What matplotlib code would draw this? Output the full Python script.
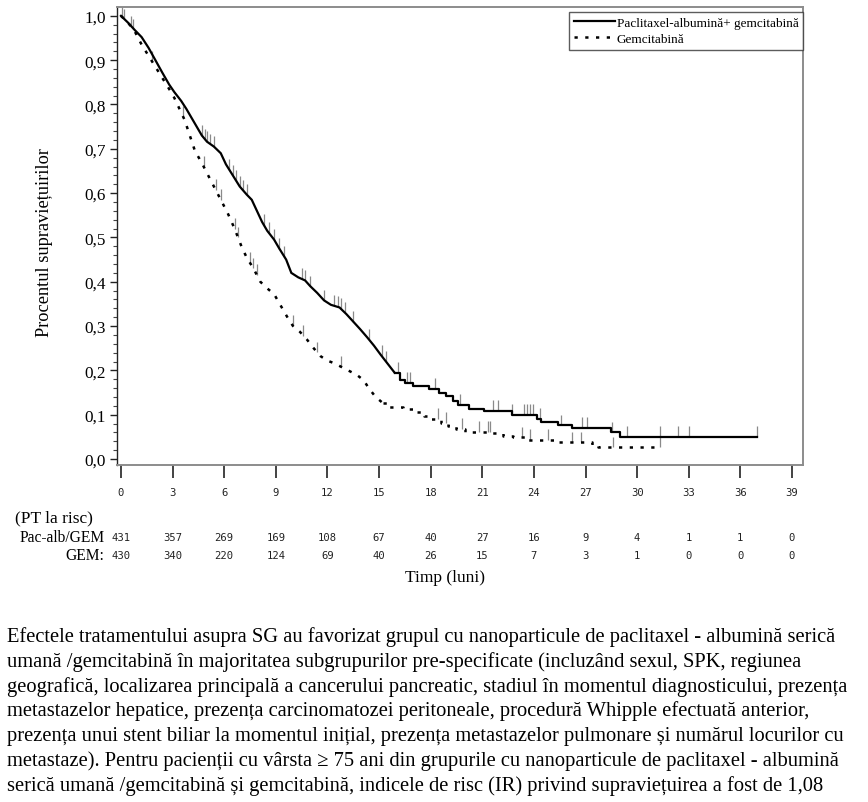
import numpy as np
import matplotlib
matplotlib.use("Agg")
import matplotlib.pyplot as plt
from matplotlib.lines import Line2D
from matplotlib.transforms import blended_transform_factory

# ---------------- data ----------------
pac_t = [0, 0.4, 0.8, 1.2, 1.6, 2.0, 2.4, 2.8, 3.1, 3.5, 3.8, 4.1, 4.4, 4.7, 5.0, 5.4, 5.8,
         6.1, 6.5, 6.9, 7.3, 7.6, 7.9, 8.2, 8.5, 8.9, 9.2, 9.6, 9.9, 10.3, 10.7, 11.0, 11.4, 11.8,
         12.2, 12.7, 13.1, 13.5, 13.9, 14.3, 14.7, 15.1, 15.5, 15.9, 16.2, 16.5, 17.0, 17.9, 18.5,
         18.9, 19.3, 19.6, 20.2, 21.1, 22.7, 24.2, 24.4, 25.4, 26.2, 28.5, 29.0, 36.96]
pac_s = [1.0, 0.985, 0.968, 0.952, 0.928, 0.9, 0.872, 0.845, 0.828, 0.808, 0.79, 0.77, 0.75,
         0.73, 0.716, 0.705, 0.69, 0.665, 0.64, 0.615, 0.597, 0.585, 0.56, 0.535, 0.515, 0.495,
         0.475, 0.45, 0.42, 0.41, 0.403, 0.39, 0.375, 0.358, 0.348, 0.342, 0.327, 0.31, 0.293,
         0.275, 0.256, 0.235, 0.215, 0.195, 0.178, 0.172, 0.165, 0.158, 0.15, 0.143, 0.13, 0.122,
         0.113, 0.109, 0.1, 0.09, 0.083, 0.076, 0.07, 0.06, 0.05, 0.05]
pac_cens = [0.05, 0.2, 4.7, 4.9, 5.0, 5.2, 5.4, 6.3, 6.5, 6.7, 6.9, 7.1, 7.3, 8.3, 8.6, 8.9, 9.2,
            9.5, 10.5, 10.7, 11.0, 11.8, 12.4, 12.6, 12.8, 13.0, 13.5, 14.4, 15.15, 15.4, 16.1,
            16.6, 16.8, 18.26, 19.7, 21.6, 21.9, 22.7, 23.45, 23.6, 23.8, 23.97, 24.36, 25.58,
            26.8, 27.1, 28.56, 29.4, 31.3, 32.4, 33.0, 36.96]

gem_t = [0, 0.4, 0.8, 1.2, 1.6, 2.0, 2.4, 2.8, 3.1, 3.4, 3.7, 4.0, 4.3, 4.7, 5.0, 5.4, 5.8, 6.2,
         6.6, 7.0, 7.3, 7.7, 8.1, 8.5, 8.9, 9.3, 9.7, 10.0, 10.4, 10.8, 11.2, 11.6, 12.0, 12.4,
         12.8, 13.2, 13.7, 14.1, 14.4, 14.8, 15.2, 15.6, 16.4, 17.0, 17.6, 18.0, 18.6, 19.0, 19.5,
         20.0, 21.5, 22.2, 22.8, 23.5, 25.2, 27.4, 27.7, 31.3]
gem_s = [1.0, 0.985, 0.965, 0.935, 0.91, 0.885, 0.86, 0.835, 0.815, 0.79, 0.765, 0.73, 0.695,
         0.668, 0.645, 0.615, 0.585, 0.555, 0.52, 0.48, 0.455, 0.43, 0.40, 0.385, 0.372, 0.345,
         0.318, 0.3, 0.287, 0.27, 0.25, 0.232, 0.222, 0.216, 0.208, 0.2, 0.19, 0.178, 0.16, 0.14,
         0.127, 0.117, 0.113, 0.105, 0.098, 0.09, 0.082, 0.075, 0.068, 0.062, 0.058, 0.053, 0.049,
         0.044, 0.038, 0.03, 0.026, 0.026]
gem_cens = [0.6, 0.7, 1.8, 3.6, 4.8, 5.5, 5.8, 6.6, 6.8, 7.5, 7.7, 7.9, 10.0, 10.6, 11.4, 12.8,
            18.45, 18.9, 19.8, 20.8, 21.35, 21.45, 23.3, 23.8, 24.8, 26.2, 26.74, 28.6, 31.3]

x_ticks = list(range(0, 40, 3))
risk_pac = [431, 357, 269, 169, 108, 67, 40, 27, 16, 9, 4, 1, 1, 0]
risk_gem = [430, 340, 220, 124, 69, 40, 26, 15, 7, 3, 1, 0, 0, 0]
y_ticks = [i / 10 for i in range(11)]
y_ticklabels = ["0,0", "0,1", "0,2", "0,3", "0,4", "0,5", "0,6", "0,7", "0,8", "0,9", "1,0"]

label_pac = "Paclitaxel-albumină+ gemcitabină"
label_gem = "Gemcitabină"

paragraph = [
    "Efectele tratamentului asupra SG au favorizat grupul cu nanoparticule de paclitaxel - albumină serică",
    "umană /gemcitabină în majoritatea subgrupurilor pre-specificate (incluzând sexul, SPK, regiunea",
    "geografică, localizarea principală a cancerului pancreatic, stadiul în momentul diagnosticului, prezența",
    "metastazelor hepatice, prezența carcinomatozei peritoneale, procedură Whipple efectuată anterior,",
    "prezența unui stent biliar la momentul inițial, prezența metastazelor pulmonare și numărul locurilor cu",
    "metastaze). Pentru pacienții cu vârsta ≥ 75 ani din grupurile cu nanoparticule de paclitaxel - albumină",
    "serică umană /gemcitabină și gemcitabină, indicele de risc (IR) privind supraviețuirea a fost de 1,08",
]

# ---------------- figure ----------------
W, H = 868, 803
fig = plt.figure(figsize=(W / 100, H / 100), dpi=100)
SERIF = "Liberation Serif"
MONO = "DejaVu Sans Mono"

ax = fig.add_axes([117 / W, 1 - 466 / H, (803 - 117) / W, (466 - 8) / H])
ax.set_xlim(-0.232, 39.64)
ax.set_ylim(-0.0135, 1.020)

DOT = (0, (1.3, 3.0))


def draw_curve(ts, ss, split, style, lw):
    ts = np.asarray(ts, float)
    ss = np.asarray(ss, float)
    k = int(np.searchsorted(ts, split))
    # dense early part: many tiny steps -> drawn through the read vertices
    ax.plot(ts[:k + 1], ss[:k + 1], color="black", lw=lw, linestyle=style, zorder=3,
            solid_joinstyle="miter")
    # sparse tail: visible steps
    ax.step(ts[k:], ss[k:], where="post", color="black", lw=lw, linestyle=style, zorder=3)
    return ts, ss, k


def curve_value(ts, ss, k, t):
    if t <= ts[k]:
        return float(np.interp(t, ts[:k + 1], ss[:k + 1]))
    i = np.searchsorted(ts, t, side="right") - 1
    return float(ss[i])


for ts, ss, cens, split, style, lw in (
        (pac_t, pac_s, pac_cens, 15.9, "-", 1.6),
        (gem_t, gem_s, gem_cens, 15.2, DOT, 1.8)):
    ta, sa, k = draw_curve(ts, ss, split, style, lw)
    for c in cens:
        yv = curve_value(ta, sa, k, c)
        ax.vlines(c, yv, yv + 0.024, color="#8a8a8a", lw=0.9, zorder=2)

# spines
for side in ("top", "right", "bottom"):
    ax.spines[side].set_color("#8c8c8c")
    ax.spines[side].set_linewidth(1.4)
ax.spines["left"].set_color("#222222")
ax.spines["left"].set_linewidth(1.0)

ax.set_yticks(y_ticks)
ax.set_yticklabels(y_ticklabels, fontfamily=SERIF, fontsize=12.3)
ax.set_yticks(np.arange(0, 1.0001, 0.02), minor=True)
ax.tick_params(axis="y", which="major", direction="out", length=5, width=1, pad=3, color="#222")
ax.tick_params(axis="y", which="minor", direction="out", length=3, width=0.8, color="#444")

ax.set_xticks(x_ticks)
ax.set_xticklabels([str(v) for v in x_ticks], fontfamily=MONO, fontsize=7.6, color="#222")
ax.tick_params(axis="x", direction="out", length=9, width=1.2, pad=7, color="#222")

# legend
handles = [Line2D([], [], color="black", lw=1.6),
           Line2D([], [], color="black", lw=1.8, linestyle=DOT)]
leg = ax.legend(handles, [label_pac, label_gem], loc="upper right",
                bbox_to_anchor=(1.0, 1 - 5 / 458), prop={"family": SERIF, "size": 9.5},
                frameon=True, fancybox=False, borderaxespad=0, handlelength=3.1,
                handletextpad=0.15, borderpad=0.35, labelspacing=0.3)
leg.get_frame().set_edgecolor("#333333")
leg.get_frame().set_linewidth(1.0)

# y label
fig.text(45 / W, 1 - 243 / H, "Procentul supraviețuirilor", rotation=90,
         ha="center", va="center", fontfamily=SERIF, fontsize=13.2)

# at-risk table
fig.text(15 / W, 1 - 518 / H, "(PT la risc)", ha="left", va="center",
         fontfamily=SERIF, fontsize=12.5)
fig.text(20 / W, 1 - 538 / H, "Pac-alb/GEM", ha="left", va="center",
         fontfamily=SERIF, fontsize=11.2)
fig.text(104 / W, 1 - 556 / H, "GEM:", ha="right", va="center",
         fontfamily=SERIF, fontsize=11.2)
trans = blended_transform_factory(ax.transData, fig.transFigure)
for xv, a, b in zip(x_ticks, risk_pac, risk_gem):
    fig.text(xv, 1 - 538 / H, str(a), transform=trans, ha="center", va="center",
             fontfamily=MONO, fontsize=7.6, color="#222")
    fig.text(xv, 1 - 556 / H, str(b), transform=trans, ha="center", va="center",
             fontfamily=MONO, fontsize=7.6, color="#222")
fig.text(445 / W, 1 - 578 / H, "Timp (luni)", ha="center", va="center",
         fontfamily=SERIF, fontsize=12.5)

# paragraph
for i, line in enumerate(paragraph):
    fig.text(7 / W, 1 - (637 + 24.8 * i) / H, line, ha="left", va="center",
             fontfamily=SERIF, fontsize=14.8)

fig.savefig("out.png", dpi=100)
